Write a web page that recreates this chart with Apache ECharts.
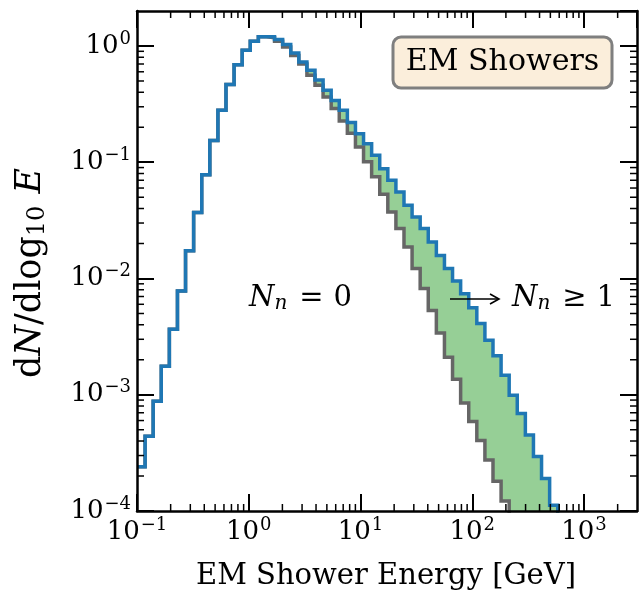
<!DOCTYPE html>
<html><head><meta charset="utf-8">
<script src="https://cdn.jsdelivr.net/npm/echarts@6/dist/echarts.min.js"></script>
<style>html,body{margin:0;padding:0;background:#fff}#c{width:641px;height:591px}</style>
</head><body><div id="c"></div>
<script>
// ---- data ----
const binStartLog = -1;          // log10 of first bin edge (GeV)
const binWidthLog = 0.0724;      // bin width in log10
const totalCounts = [2.4e-4,4.4e-4,8.8e-4,1.76e-3,3.66e-3,7.8e-3,0.0173,0.037,0.078,0.154,
  0.28,0.466,0.69,0.918,1.10,1.20,1.20,1.135,1.03,0.87,
  0.73,0.62,0.51,0.416,0.34,0.28,0.22,0.176,0.144,0.115,
  0.088,0.070,0.0555,0.0426,0.0338,0.0269,0.0206,0.0158,0.0122,0.0095,
  0.0074,0.0056,0.0041,0.00294,0.00216,0.00147,9.9e-4,6.9e-4,4.5e-4,2.95e-4,
  1.9e-4,1.12e-4,6e-5];
const zeroNeutronCounts = [2.4e-4,4.4e-4,8.8e-4,1.76e-3,3.66e-3,7.8e-3,0.0173,0.037,0.078,0.154,
  0.28,0.466,0.69,0.918,1.10,1.20,1.18,1.10,0.98,0.83,
  0.70,0.56,0.46,0.365,0.29,0.226,0.178,0.135,0.101,0.075,
  0.053,0.0373,0.0269,0.0187,0.0122,0.0082,0.0053,0.0034,0.0021,0.00136,
  8.5e-4,5.9e-4,4.05e-4,2.75e-4,1.8e-4,1.22e-4,7e-5,4.5e-5,3e-5,2e-5,
  1.3e-5,8e-6,4e-6];
const xMin = 0.1, xMax = 2980;
const yMin = 1e-4, yMax = 2;
const xMinorTicks = [];
for (let d = -1; d <= 3; d++) for (let m = 2; m <= 9; m++) { const v = m * Math.pow(10, d); if (v < xMax) xMinorTicks.push(v); }
const yMinorTicks = [];
for (let d = -4; d <= 0; d++) for (let m = 2; m <= 9; m++) { const v = m * Math.pow(10, d); if (v < yMax) yMinorTicks.push(v); }

const FONT = '"DejaVu Serif", serif';
const BLUE = '#1f77b4', GRAY = '#666666', GREEN = '#96cf96';

function stepPoints(vals) {
  const pts = [];
  for (let i = 0; i < vals.length; i++) {
    const l = Math.pow(10, binStartLog + i * binWidthLog);
    const r = Math.pow(10, binStartLog + (i + 1) * binWidthLog);
    pts.push([l, vals[i]], [r, vals[i]]);
  }
  return pts;
}
const bluePts = stepPoints(totalCounts);
const grayPts = stepPoints(zeroNeutronCounts);

function tickFmt(v) {
  const lg = Math.log10(v), e = Math.round(lg);
  if (Math.abs(lg - e) > 1e-6) return '';
  return '{b|10}{s|' + (e < 0 ? '\u2212' + (-e) : e) + '}';
}
const tickRich = {
  b: { fontSize: 26, fontFamily: FONT, color: '#000' },
  s: { fontSize: 18, fontFamily: FONT, color: '#000', padding: [0, 0, 14, 1] }
};
const axisCommon = {
  type: 'log', logBase: 10,
  axisLine: { show: true, lineStyle: { color: '#000', width: 2.5 } },
  axisTick: { show: true, inside: true, length: 17, lineStyle: { color: '#000', width: 2 } },
  splitLine: { show: false }, minorTick: { show: false }, z: 10
};
const mathRich = {
  r: { fontSize: 29, fontFamily: FONT, color: '#000' },
  e: { fontSize: 29, fontFamily: FONT, color: '#000', padding: [0, 10, 0, 12] },
  i: { fontSize: 29, fontFamily: FONT, fontStyle: 'italic', color: '#000' },
  s: { fontSize: 20, fontFamily: FONT, fontStyle: 'italic', color: '#000', padding: [12, 0, 0, 0] }
};

const chart = echarts.init(document.getElementById('c'), null, { renderer: 'canvas' });
chart.setOption({
  animation: false,
  backgroundColor: '#fff',
  grid: { left: 137, right: 4, top: 11, bottom: 80, containLabel: false },
  xAxis: [
    Object.assign({}, axisCommon, { min: xMin, max: xMax, position: 'bottom',
      axisLabel: { formatter: tickFmt, rich: tickRich, margin: 5, showMaxLabel: false } }),
    Object.assign({}, axisCommon, { min: xMin, max: xMax, position: 'top', axisLabel: { show: false } })
  ],
  yAxis: [
    Object.assign({}, axisCommon, { min: yMin, max: yMax, position: 'left',
      axisLabel: { formatter: tickFmt, rich: tickRich, margin: 6, showMaxLabel: false } }),
    Object.assign({}, axisCommon, { min: yMin, max: yMax, position: 'right', axisLabel: { show: false } })
  ],
  series: [
    { type: 'custom', name: 'fill', z: 1, silent: true, data: [[1, 1]],
      renderItem: function (params, api) {
        const top = bluePts.map(p => api.coord([p[0], Math.max(p[1], yMin)]));
        const bot = grayPts.slice().reverse().map(p => api.coord([p[0], Math.max(p[1], yMin)]));
        return { type: 'polygon', shape: { points: top.concat(bot) }, style: { fill: GREEN } };
      } },
    { type: 'line', name: 'N_n = 0', data: grayPts, showSymbol: false, z: 3, clip: true,
      lineStyle: { color: GRAY, width: 3.5, join: 'miter' }, itemStyle: { color: GRAY } },
    { type: 'line', name: 'all', data: bluePts, showSymbol: false, z: 4, clip: true,
      lineStyle: { color: BLUE, width: 3.5, join: 'miter' }, itemStyle: { color: BLUE } },
    { type: 'custom', name: 'xminor', z: 6, silent: true, data: xMinorTicks.map(v => [v, 1]),
      renderItem: function (params, api) {
        const v = api.value(0);
        const b = api.coord([v, yMin]), t = api.coord([v, yMax]);
        return { type: 'group', children: [
          { type: 'line', shape: { x1: b[0], y1: b[1], x2: b[0], y2: b[1] - 7 }, style: { stroke: '#000', lineWidth: 1.5 } },
          { type: 'line', shape: { x1: t[0], y1: t[1], x2: t[0], y2: t[1] + 7 }, style: { stroke: '#000', lineWidth: 1.5 } }
        ] };
      } },
    { type: 'custom', name: 'yminor', z: 6, silent: true, data: yMinorTicks.map(v => [1, v]),
      renderItem: function (params, api) {
        const v = api.value(1);
        const l = api.coord([xMin, v]), r = api.coord([xMax, v]);
        return { type: 'group', children: [
          { type: 'line', shape: { x1: l[0], y1: l[1], x2: l[0] + 7, y2: l[1] }, style: { stroke: '#000', lineWidth: 1.5 } },
          { type: 'line', shape: { x1: r[0], y1: r[1], x2: r[0] - 7, y2: r[1] }, style: { stroke: '#000', lineWidth: 1.5 } }
        ] };
      } }
  ],
  graphic: [
    { type: 'text', x: 386, y: 576, z: 50,
      style: { text: 'EM Shower Energy [GeV]', font: '29px ' + FONT, fill: '#000',
        textAlign: 'center', textVerticalAlign: 'middle', align: 'center', verticalAlign: 'middle' } },
    { type: 'text', x: 31, y: 273, rotation: Math.PI / 2, z: 50,
      style: { text: '{r|d}{i|N}{r|/dlog}{u|10}{i| E}', fill: '#000',
        textAlign: 'center', textVerticalAlign: 'middle', align: 'center', verticalAlign: 'middle',
        rich: {
          r: { fontSize: 35, fontFamily: FONT, color: '#000' },
          i: { fontSize: 35, fontFamily: FONT, fontStyle: 'italic', color: '#000' },
          u: { fontSize: 24, fontFamily: FONT, color: '#000', padding: [13, 1, 0, 0] }
        } } },
    { type: 'rect', z: 60, shape: { x: 393, y: 37, width: 219, height: 51, r: 8 },
      style: { fill: '#fbeedb', stroke: '#7f7f7f', lineWidth: 3 } },
    { type: 'text', x: 502.5, y: 62.5, z: 61,
      style: { text: 'EM Showers', font: '30px ' + FONT, fill: '#000',
        textAlign: 'center', textVerticalAlign: 'middle', align: 'center', verticalAlign: 'middle' } },
    { type: 'text', x: 249, y: 298, z: 50,
      style: { text: '{i|N}{s|n}{e|=}{r|0}', fill: '#000',
        textAlign: 'left', textVerticalAlign: 'middle', align: 'left', verticalAlign: 'middle', rich: mathRich } },
    { type: 'line', z: 50, shape: { x1: 450, y1: 299, x2: 499, y2: 299 }, style: { stroke: '#000', lineWidth: 1.6 } },
    { type: 'polyline', z: 50, shape: { points: [[490, 294], [499, 299], [490, 304]] }, style: { stroke: '#000', lineWidth: 1.6, fill: null } },
    { type: 'text', x: 512, y: 298, z: 50,
      style: { text: '{i|N}{s|n}{e|\u2265}{r|1}', fill: '#000',
        textAlign: 'left', textVerticalAlign: 'middle', align: 'left', verticalAlign: 'middle', rich: mathRich } }
  ]
});
</script></body></html>
